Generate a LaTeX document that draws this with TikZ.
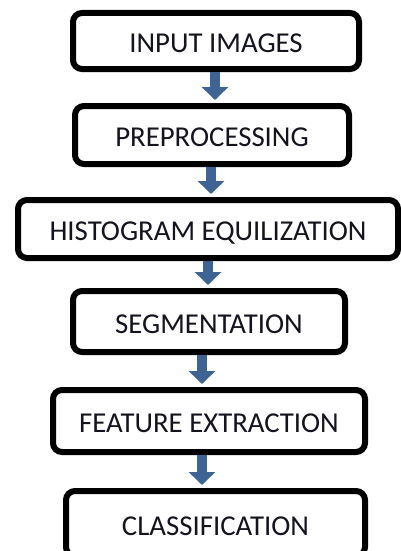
\documentclass[tikz,border=0pt]{standalone}
\usepackage{fontspec}
\setmainfont{Carlito}
\usetikzlibrary{arrows.meta}
\definecolor{arrowblue}{RGB}{62,100,150}
\definecolor{textdark}{RGB}{20,20,30}
\tikzset{
  stage/.style={draw=black, line width=6pt, rounded corners=9pt, fill=white,
    inner sep=0pt, text=textdark, font=\fontsize{28.8}{32}\selectfont,
    text height=23.5pt, text depth=0pt},
  flow/.style={draw=arrowblue, line width=10pt,
    -{Triangle[width=26pt,length=13pt,fill=arrowblue]}, shorten >=3pt}
}
\begin{document}
\begin{tikzpicture}[x=1pt,y=-1pt]
\useasboundingbox (0,0) rectangle (401,551);
\clip (0,0) rectangle (401,551);
\node[stage, minimum width=286pt, minimum height=56pt] (a) at (216,41) {INPUT IMAGES};
\node[stage, minimum width=274pt, minimum height=58pt] (b) at (212,135) {PREPROCESSING};
\node[stage, minimum width=380pt, minimum height=58pt] (c) at (208,229) {HISTOGRAM EQUILIZATION};
\node[stage, minimum width=272pt, minimum height=61pt] (d) at (209,321.5) {SEGMENTATION};
\node[stage, minimum width=312pt, minimum height=62pt] (e) at (209,421) {FEATURE EXTRACTION};
\node[stage, minimum width=299pt, minimum height=65pt] (f) at (215.5,523.5) {CLASSIFICATION};
\draw[flow] ([xshift=-1pt]a.south) -- ([xshift=-1pt]a.south |- b.north);
\draw[flow] ([xshift=-1pt]b.south) -- ([xshift=-1pt]b.south |- c.north);
\draw[flow] (c.south) -- (c.south |- d.north);
\draw[flow] ([xshift=-7pt]d.south) -- ([xshift=-7pt]d.south |- e.north);
\draw[flow] ([xshift=-7pt]e.south) -- ([xshift=-7pt]e.south |- f.north);
\end{tikzpicture}
\end{document}
